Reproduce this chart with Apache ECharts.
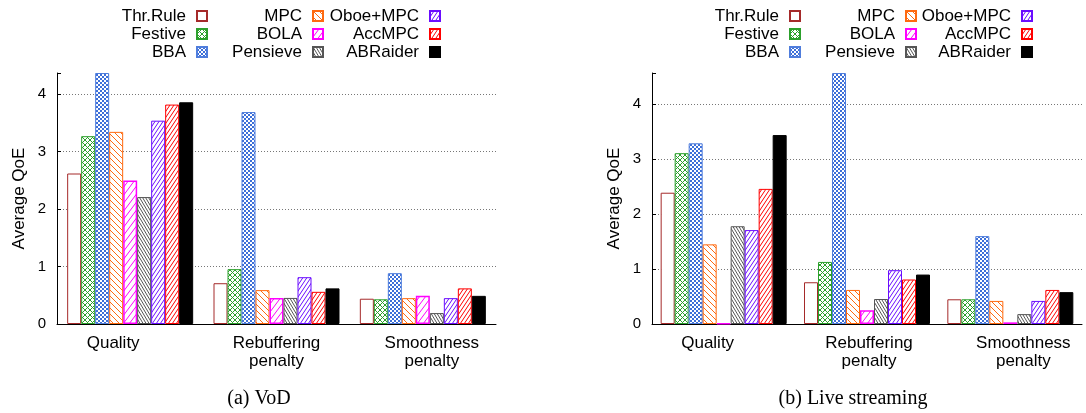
<!DOCTYPE html>
<html><head><meta charset="utf-8">
<script src="https://cdn.jsdelivr.net/npm/echarts@6/dist/echarts.min.js"></script>
<style>html,body{margin:0;padding:0;background:#fff}#c{width:1086px;height:413px}</style>
</head><body><div id="c"></div>
<script>
// ---------- data ----------
const categories = ['Quality', 'Rebuffering\npenalty', 'Smoothness\npenalty'];
const methods = ['Thr.Rule', 'Festive', 'BBA', 'MPC', 'BOLA', 'Pensieve', 'Oboe+MPC', 'AccMPC', 'ABRaider'];
const yTicks = [0, 1, 2, 3, 4];
const chartTitles = ['(a) VoD', '(b) Live streaming'];

// (a) VoD: [Quality, Rebuffering penalty, Smoothness penalty]
const vodThrRule  = [2.62, 0.71, 0.44];
const vodFestive  = [3.27, 0.955, 0.43];
const vodBBA      = [4.37, 3.69, 0.885];
const vodMPC      = [3.345, 0.59, 0.45];
const vodBOLA     = [2.50, 0.454, 0.49];
const vodPensieve = [2.21, 0.454, 0.19];
const vodOboeMPC  = [3.54, 0.815, 0.45];
const vodAccMPC   = [3.82, 0.56, 0.62];
const vodABRaider = [3.86, 0.62, 0.49];

// (b) Live streaming
const liveThrRule  = [2.39, 0.76, 0.45];
const liveFestive  = [3.11, 1.13, 0.45];
const liveBBA      = [3.29, 4.57, 1.60];
const liveMPC      = [1.45, 0.62, 0.42];
const liveBOLA     = [0.01, 0.25, 0.03];
const livePensieve = [1.78, 0.455, 0.18];
const liveOboeMPC  = [1.71, 0.98, 0.42];
const liveAccMPC   = [2.46, 0.81, 0.62];
const liveABRaider = [3.44, 0.90, 0.58];

const vodSeries  = [vodThrRule, vodFestive, vodBBA, vodMPC, vodBOLA, vodPensieve, vodOboeMPC, vodAccMPC, vodABRaider];
const liveSeries = [liveThrRule, liveFestive, liveBBA, liveMPC, liveBOLA, livePensieve, liveOboeMPC, liveAccMPC, liveABRaider];
const yMax = [4.37, 4.57];

// ---------- styles ----------
const SANS = '"Liberation Sans", Arial, Helvetica, sans-serif';
const SERIF = '"Liberation Serif", "Times New Roman", serif';

function tile(w, h, draw) {
  const c = document.createElement('canvas');
  c.width = w; c.height = h;
  const g = c.getContext('2d');
  g.fillStyle = '#fff'; g.fillRect(0, 0, w, h);
  draw(g, w, h);
  return { image: c, repeat: 'repeat' };
}
function slash(color, w, h, lw) {
  return tile(w, h, (g) => {
    g.strokeStyle = color; g.lineWidth = lw; g.beginPath();
    for (const k of [-w, 0, w]) { g.moveTo(k, h); g.lineTo(k + w, 0); }
    g.stroke();
  });
}
function backslash(color, w, h, lw) {
  return tile(w, h, (g) => {
    g.strokeStyle = color; g.lineWidth = lw; g.beginPath();
    for (const k of [-w, 0, w]) { g.moveTo(k, 0); g.lineTo(k + w, h); }
    g.stroke();
  });
}
function cross(color, s, lw) {
  return tile(s, s, (g) => {
    g.strokeStyle = color; g.lineWidth = lw; g.beginPath();
    for (const k of [-s, 0, s]) { g.moveTo(k, s); g.lineTo(k + s, 0); g.moveTo(k, 0); g.lineTo(k + s, s); }
    g.stroke();
  });
}
function checker(color) {
  return tile(4, 4, (g) => {
    g.fillStyle = color; g.fillRect(0, 0, 4, 4);
    g.fillStyle = '#ffffff'; g.fillRect(0, 0, 2, 2); g.fillRect(2, 2, 2, 2);
  });
}

const styles = [
  { color: '#ffffff', borderColor: '#a52a2a', borderWidth: 1 },
  { color: cross('#2ca02c', 5, 1), borderColor: '#2ca02c', borderWidth: 1 },
  { color: checker('#3d6fd8'), borderColor: '#4f7ddc', borderWidth: 1 },
  { color: backslash('#ff6a10', 6, 6, 1), borderColor: '#ff6a10', borderWidth: 1 },
  { color: slash('#ff00ff', 6, 8, 1), borderColor: '#ff00ff', borderWidth: 1.5 },
  { color: backslash('#555555', 3, 5, 1), borderColor: '#555555', borderWidth: 1 },
  { color: slash('#6a0dff', 4, 6, 1), borderColor: '#6a0dff', borderWidth: 1 },
  { color: slash('#ff0000', 4, 6, 1), borderColor: '#ff0000', borderWidth: 1 },
  { color: '#000000', borderColor: '#000000', borderWidth: 1 }
];

// ---------- layout ----------
const grids = [
  { left: 57, top: 73, width: 439, height: 251 },
  { left: 652, top: 73, width: 430, height: 251 }
];
const labelShift = [[-17, 0, 9], [-16, 2, 13]];
const legendRights = [[878, 762, 645], [285, 169, 53]];
const titleCenters = [259, 853];

function catData(ci) {
  return categories.map((c, i) => {
    const s = labelShift[ci][i];
    return { value: c, textStyle: { padding: [0, s < 0 ? -2 * s : 0, 0, s > 0 ? 2 * s : 0] } };
  });
}

const xAxis = [0, 1].map(ci => ({
  gridIndex: ci, type: 'category', data: catData(ci),
  axisLine: { show: true, lineStyle: { color: '#000', width: 1 } },
  axisTick: { show: false },
  axisLabel: { fontFamily: SANS, fontSize: 17, lineHeight: 18, color: '#000', margin: 10, interval: 0 },
  splitLine: { show: false }
}));

const yAxis = [0, 1].map(ci => ({
  gridIndex: ci, type: 'value', min: yTicks[0], max: yMax[ci], interval: 1,
  axisLine: { show: true, lineStyle: { color: '#000', width: 1 } },
  axisTick: { show: true, inside: true, length: 4, lineStyle: { color: '#000' } },
  axisLabel: {
    fontFamily: SANS, fontSize: 15, color: '#000', margin: 11,
    formatter: v => (yTicks.indexOf(v) >= 0 ? String(v) : '')
  },
  splitLine: { show: true, showMaxLine: false, showMinLine: false, lineStyle: { color: '#777', width: 1, type: [1, 2] } },
  name: 'Average QoE', nameLocation: 'middle', nameGap: 29, nameRotate: 90,
  nameTextStyle: { fontFamily: SANS, fontSize: 17, color: '#000' }
}));

const series = [];
[vodSeries, liveSeries].forEach((set, ci) => {
  set.forEach((vals, mi) => {
    series.push({
      type: 'bar', name: methods[mi], xAxisIndex: ci, yAxisIndex: ci,
      data: vals, barWidth: 14, barGap: '0%',
      itemStyle: styles[mi], emphasis: { disabled: true }, animation: false
    });
  });
});

const legend = [];
[0, 1].forEach(ci => {
  [0, 1, 2].forEach(col => {
    legend.push({
      orient: 'vertical', align: 'right', icon: 'rect',
      itemWidth: 10, itemHeight: 10, itemGap: 0, padding: 0,
      top: 7, right: legendRights[ci][col],
      selectedMode: false,
      data: methods.slice(col * 3, col * 3 + 3),
      textStyle: { fontFamily: SANS, fontSize: 17, lineHeight: 18, color: '#000', padding: [0, 6, 0, 0] }
    });
  });
});

const title = chartTitles.map((t, ci) => ({
  text: t, left: titleCenters[ci], top: 388, textAlign: 'center', padding: 0,
  textStyle: { fontFamily: SERIF, fontSize: 20, fontWeight: 'normal', color: '#000', lineHeight: 22 }
}));

const chart = echarts.init(document.getElementById('c'), null, { renderer: 'canvas' });
chart.setOption({
  backgroundColor: '#fff',
  animation: false,
  title, legend, grid: grids, xAxis, yAxis, series
});
</script>
</body></html>
